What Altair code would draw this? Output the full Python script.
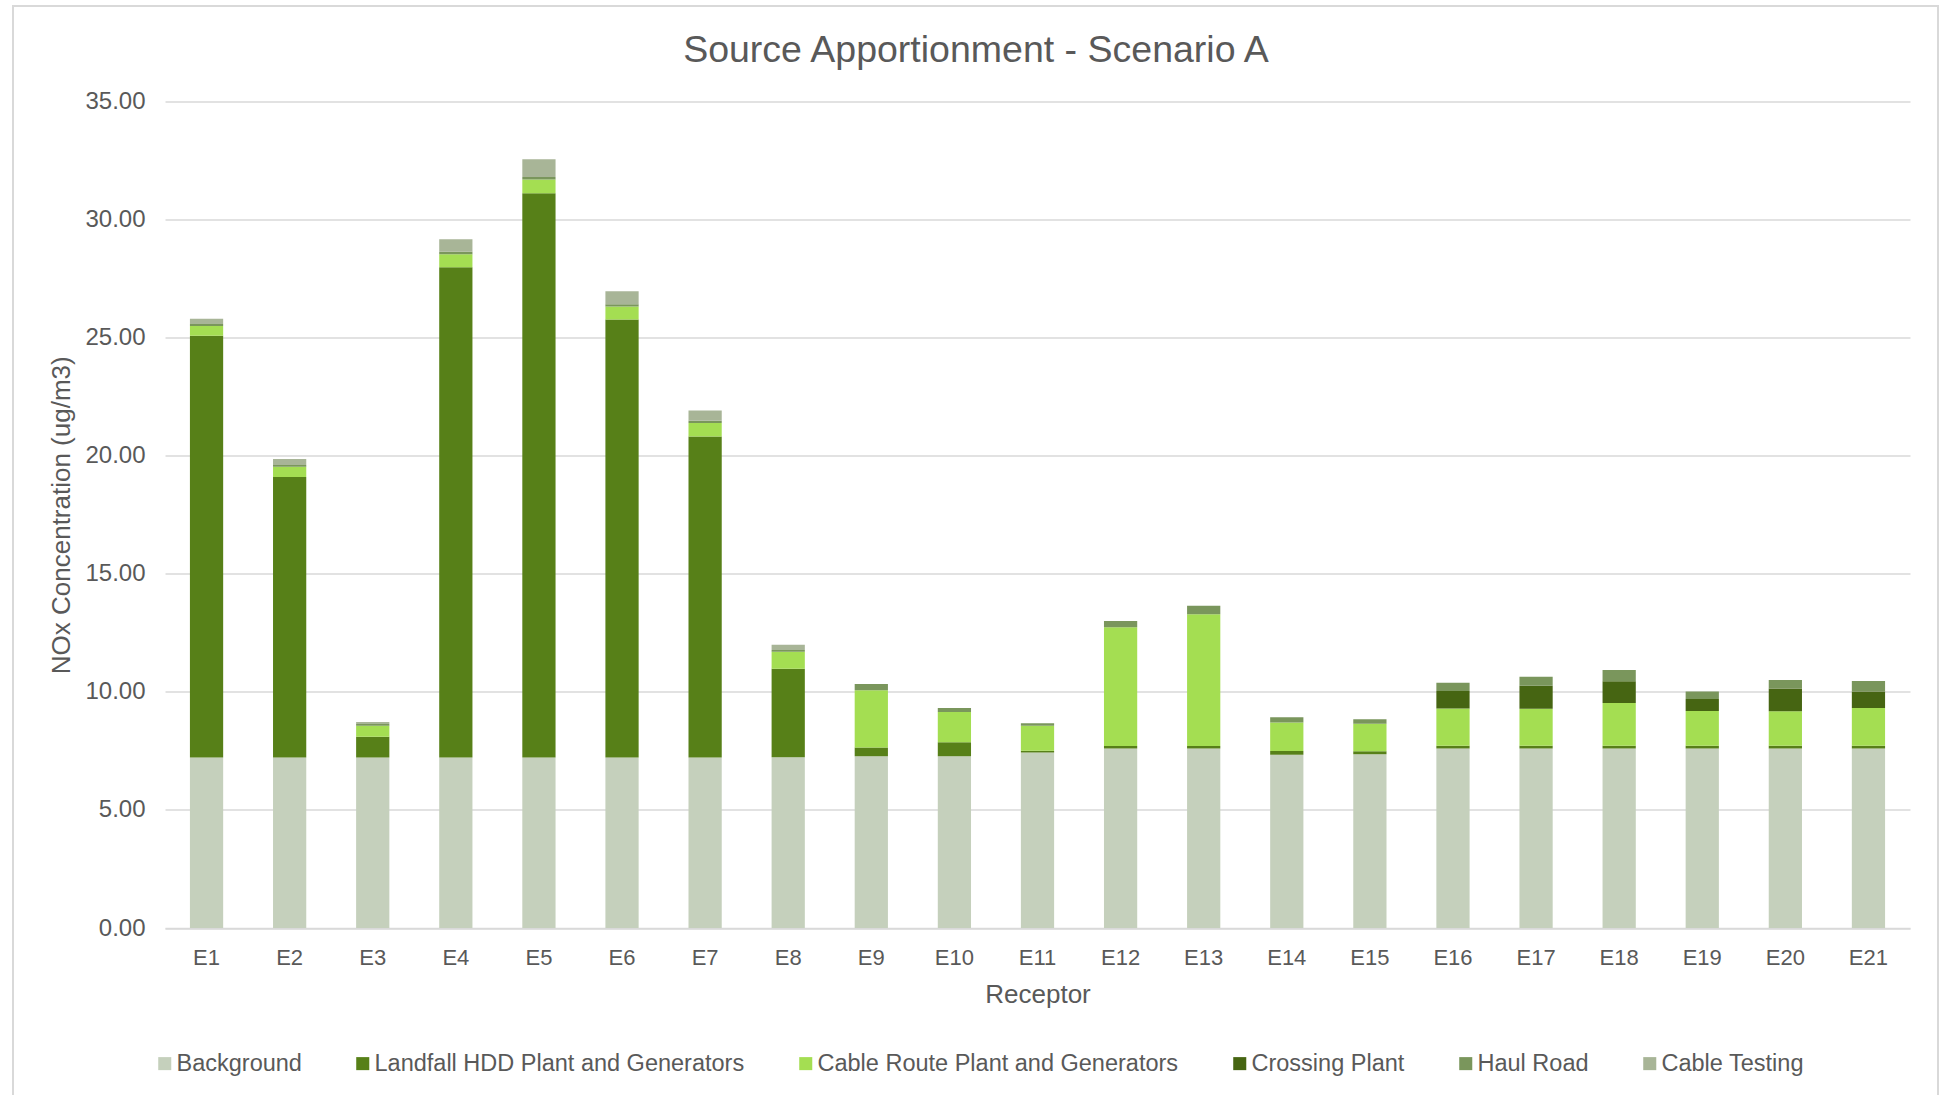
import altair as alt
import pandas as pd

receptors = [f"E{i}" for i in range(1, 22)]
sources = ["Background", "Landfall HDD Plant and Generators", "Cable Route Plant and Generators",
           "Crossing Plant", "Haul Road", "Cable Testing"]
colors = ["#c5d0bc", "#578018", "#a4de52", "#466512", "#7a965c", "#a8b597"]
chart_title = "Source Apportionment - Scenario A"

background = [7.22, 7.22, 7.22, 7.22, 7.22, 7.22, 7.22, 7.23, 7.27, 7.27, 7.43,
              7.60, 7.60, 7.34, 7.36, 7.60, 7.60, 7.60, 7.60, 7.60, 7.60]
landfall = [17.86, 11.88, 0.88, 20.76, 23.89, 18.55, 13.59, 3.75, 0.37, 0.60, 0.08,
            0.11, 0.11, 0.16, 0.12, 0.12, 0.12, 0.12, 0.12, 0.12, 0.12]
cable_route = [0.41, 0.43, 0.47, 0.55, 0.59, 0.55, 0.58, 0.72, 2.43, 1.28, 1.05,
               5.03, 5.58, 1.20, 1.17, 1.58, 1.56, 1.81, 1.47, 1.46, 1.60]
crossing = [0, 0, 0, 0, 0, 0, 0, 0, 0, 0, 0, 0, 0, 0, 0, 0.74, 0.98, 0.92, 0.51, 0.96, 0.69]
haul_road = [0.09, 0.08, 0.07, 0.11, 0.10, 0.09, 0.09, 0.07, 0.26, 0.17, 0.11,
             0.26, 0.36, 0.22, 0.19, 0.35, 0.38, 0.48, 0.32, 0.36, 0.45]
cable_testing = [0.22, 0.25, 0.08, 0.53, 0.75, 0.55, 0.43, 0.23, 0, 0, 0,
                 0, 0, 0, 0, 0, 0, 0, 0, 0, 0]

series = [background, landfall, cable_route, crossing, haul_road, cable_testing]
rows = []
for si, (name, vals) in enumerate(zip(sources, series)):
    for r, v in zip(receptors, vals):
        rows.append({"Receptor": r, "Source": name, "Value": v, "order": si})
df = pd.DataFrame(rows)

FONT = "Liberation Sans"
TXT = "#595959"

bars = alt.Chart(df).mark_bar().encode(
    x=alt.X("Receptor:N", sort=receptors,
            scale=alt.Scale(paddingInner=0.6, paddingOuter=0.3),
            axis=alt.Axis(title="Receptor", labelAngle=0, ticks=False, domainColor="#d9d9d9",
                          domainWidth=1.5, labelFontSize=22, labelPadding=19, titleFontSize=26,
                          titlePadding=13, titleFontWeight="normal")),
    y=alt.Y("Value:Q", stack="zero",
            scale=alt.Scale(domain=[0, 35], nice=False),
            axis=alt.Axis(title="NOx Concentration (ug/m3)", values=list(range(0, 36, 5)),
                          format=".2f", domain=False, ticks=False, labelFontSize=24,
                          labelPadding=20, titleFontSize=26, titlePadding=10,
                          titleFontWeight="normal", gridColor="#d9d9d9", gridWidth=1.5)),
    color=alt.Color("Source:N", scale=alt.Scale(domain=sources, range=colors),
                    legend=alt.Legend(title=None, orient="none", direction="horizontal",
                                      legendX=-12, legendY=950, columns=6, columnPadding=49,
                                      symbolType="square", symbolSize=170, symbolStrokeWidth=0,
                                      labelFontSize=23.5, labelOffset=0, labelColor=TXT,
                                      labelFont=FONT, labelLimit=600)),
    order=alt.Order("order:Q", sort="ascending"),
)

border = alt.Chart(pd.DataFrame({"a": [0]})).mark_rect(
    fillOpacity=0, stroke="#d9d9d9", strokeWidth=2
).encode(x=alt.value(-152), x2=alt.value(1773), y=alt.value(-95.5), y2=alt.value(1000))

title = alt.Chart(pd.DataFrame({"t": [chart_title]})).mark_text(
    font=FONT, fontSize=37.5, color=TXT, align="center", baseline="alphabetic"
).encode(text="t:N", x=alt.value(811), y=alt.value(-40))

chart = alt.layer(border, bars, title).properties(
    width=1745, height=826.5,
    autosize=alt.AutoSizeParams(type="none"),
    padding={"left": 165, "top": 101.5, "right": 30, "bottom": 167},
).configure(background="white").configure_view(stroke=None).configure_axis(
    labelFont=FONT, titleFont=FONT, labelColor=TXT, titleColor=TXT
)

chart.save("out.html", embed_options={"renderer": "svg", "actions": False})
